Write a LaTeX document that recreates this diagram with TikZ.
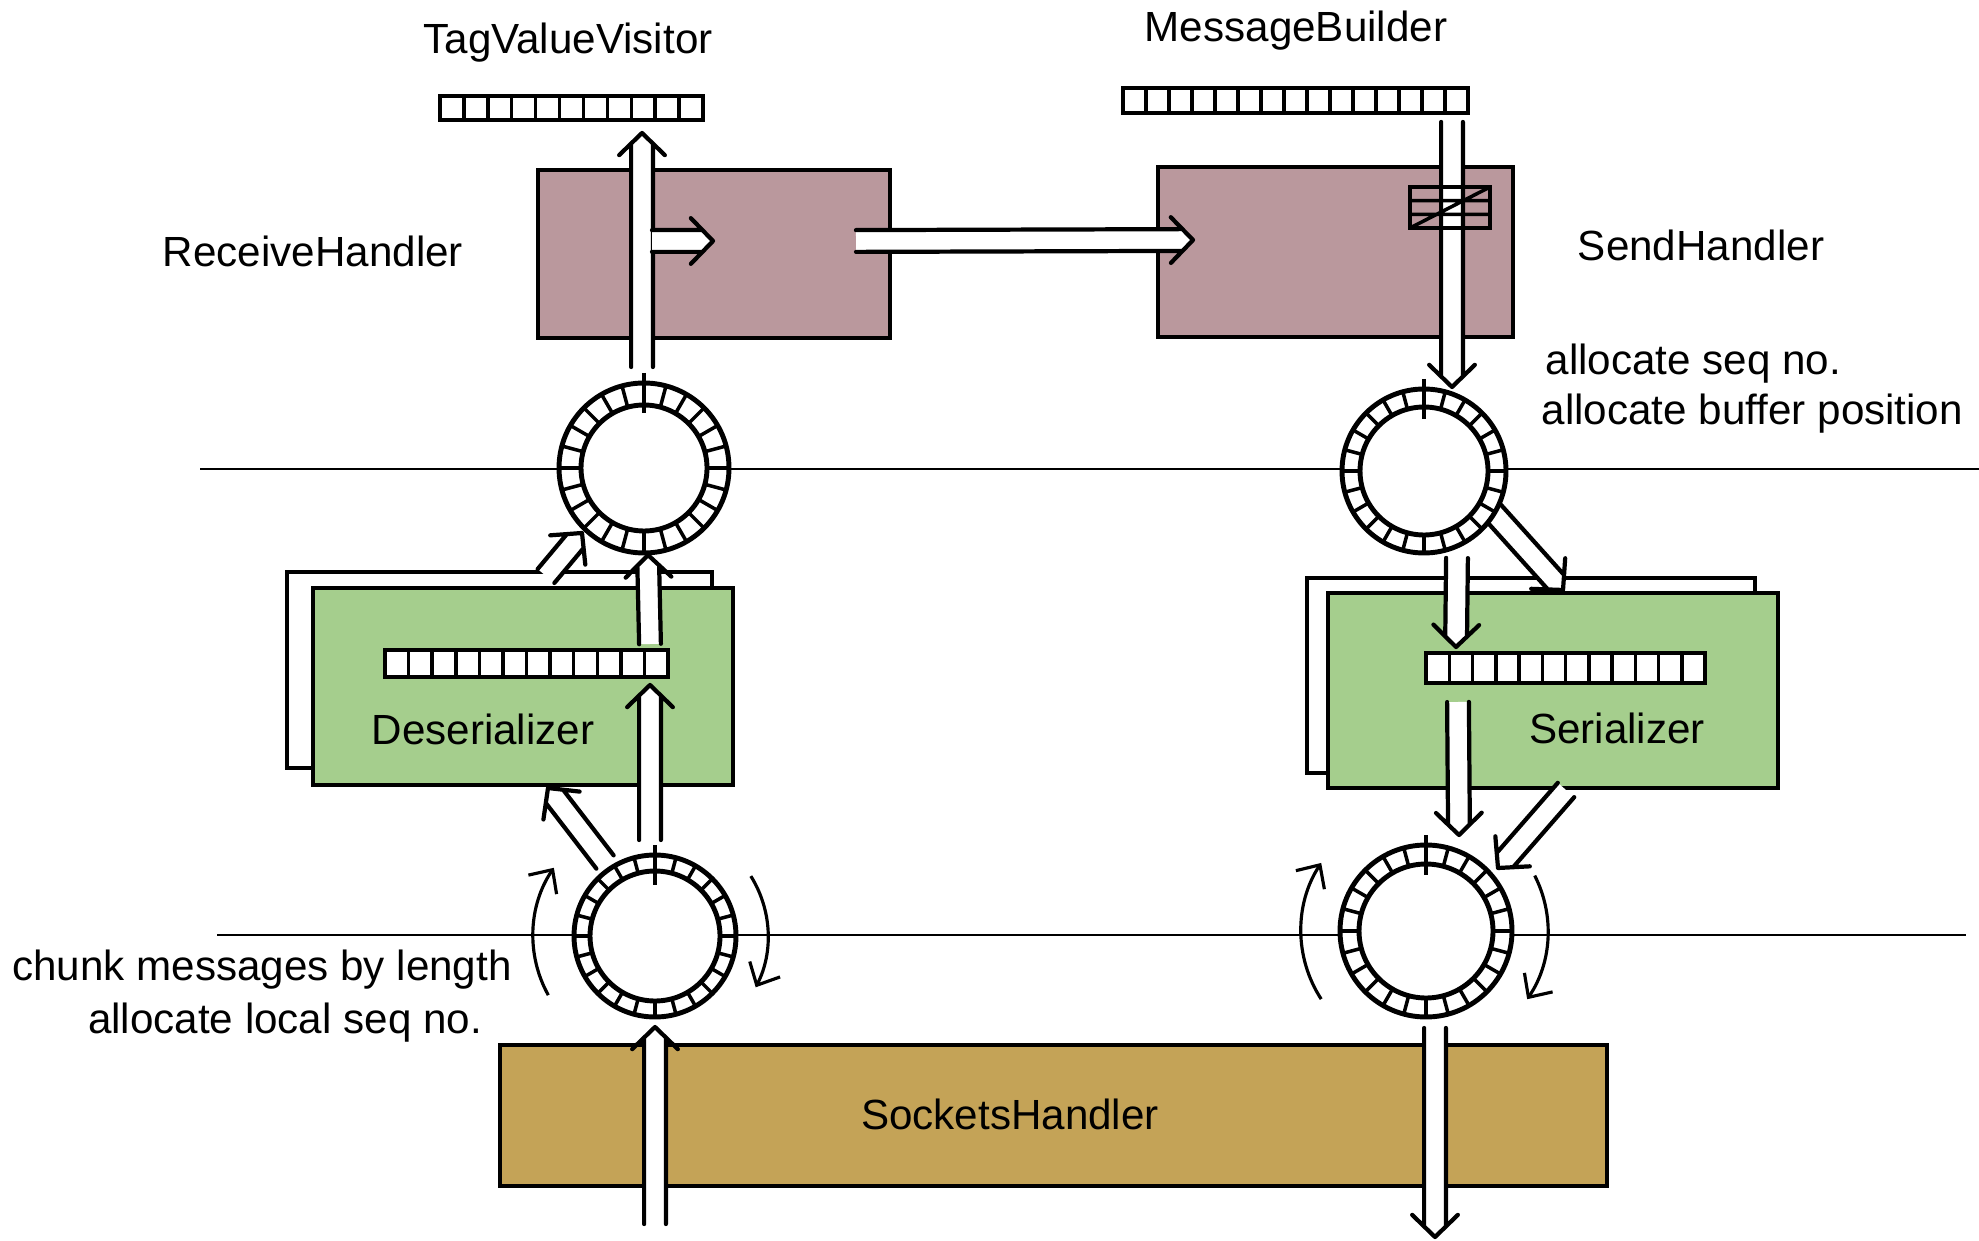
\documentclass[tikz,border=0pt]{standalone}
\usepackage{fontspec}
\setmainfont{Liberation Sans}
\usepackage{tikz}
\usetikzlibrary{calc,positioning,arrows.meta}

\definecolor{handlerpink}{RGB}{186,152,157}
\definecolor{codecgreen}{RGB}{165,206,141}
\definecolor{socketgold}{RGB}{196,163,87}

\tikzset{
  box/.style={draw, line width=1.2pt, inner sep=0pt, outer sep=0pt, anchor=north west},
  buf/.style={draw, fill=white, line width=1pt, inner sep=0pt, outer sep=0pt, anchor=north west},
  ring/.style={circle, draw, fill=white, line width=1.4pt, inner sep=0pt, outer sep=0pt},
  spoke/.style={line width=1pt},
  pipeline/.style={line width=1.2pt, line cap=round, line join=round},
  spin/.style={line width=0.9pt, -{Straight Barb[length=1.8mm,width=3.4mm]}},
  wire/.style={line width=0.6pt},
  txt/.style={font=\fontsize{12pt}{14pt}\selectfont, inner sep=0pt, anchor=base}
}

% hollow arrow with an open head, from #1 to #2
\newcommand{\flow}[2]{%
  \coordinate (pa) at ($(#1)!3.1pt!90:(#2)$);
  \coordinate (pb) at ($(#1)!3.1pt!-90:(#2)$);
  \coordinate (sa) at ($(#2)!3pt!(#1)!3.1pt!90:(#2)$);
  \coordinate (sb) at ($(#2)!3pt!(#1)!3.1pt!-90:(#2)$);
  \coordinate (wa) at ($(#2)!6.3pt!(#1)!6.5pt!90:(#2)$);
  \coordinate (wb) at ($(#2)!6.3pt!(#1)!6.5pt!-90:(#2)$);
  \fill[white] (pa) -- (sa) -- (#2) -- (sb) -- (pb) -- cycle;
  \draw[pipeline] (pa) -- (sa) (wa) -- (#2) -- (wb) (pb) -- (sb);
}

% buffer cells: node #1 split into #2 slots
\newcommand{\cells}[2]{%
  \pgfmathtruncatemacro\lastcell{#2-1}
  \foreach \i in {1,...,\lastcell}
    \draw[line width=1pt] ($(#1.north west)!\i/#2!(#1.north east)$) -- ($(#1.south west)!\i/#2!(#1.south east)$);
}

% ring buffer: inner circle and spokes on node #1
\newcommand{\ringcells}[3]{%
  \draw[line width=1.4pt] (#1.center) circle[radius=#2];
  \foreach \a in {0,15,...,345}
    \draw[spoke] ([shift={(\a:#2)}]#1.center) -- ([shift={(\a:#3)}]#1.center);
  \draw[line width=1.2pt] (#1.north) ++(0,-10) -- ++(0,40);
}

\begin{document}
\begin{tikzpicture}[x=0.1mm, y=-0.1mm]
    \useasboundingbox (0,0) rectangle (1979,1241);

    % thread boundaries
    \draw[wire] (200,469) -- (1979,469);
    \draw[wire] (217,935) -- (1966,935);

    % handlers
    \node[box, fill=handlerpink, minimum width=35.2mm, minimum height=16.8mm] (recv) at (538,170) {};
    \node[box, fill=handlerpink, minimum width=35.5mm, minimum height=17mm] (send) at (1158,167) {};

    % codecs
    \node[box, fill=white, minimum width=42.5mm, minimum height=19.6mm] (deserback) at (287,572) {};
    \node[box, fill=codecgreen, minimum width=42mm, minimum height=19.7mm] (deser) at (313,588) {};
    \node[box, fill=white, minimum width=44.8mm, minimum height=19.5mm] (serback) at (1307,578) {};
    \node[box, fill=codecgreen, minimum width=45mm, minimum height=19.5mm] (ser) at (1328,593) {};

    % sockets
    \node[box, fill=socketgold, minimum width=110.7mm, minimum height=14.1mm] (sockets) at (500,1045) {};

    % arrow ends
    \coordinate (rxin) at (655,1224);    \coordinate (rxring) at (655,1027);
    \coordinate (blup) at (650,840);     \coordinate (desbuf) at (650,685);
    \coordinate (blside) at (605,862);   \coordinate (desbot) at (548,788);
    \coordinate (desout) at (650,644);   \coordinate (tlbot) at (648,555);
    \coordinate (desside) at (546,576);  \coordinate (tlside) at (582,533);
    \coordinate (tltop) at (642,367);    \coordinate (tagin) at (642,133);
    \coordinate (branch) at (652,241);   \coordinate (branchend) at (713,241);
    \coordinate (recvout) at (856,241);  \coordinate (sendin) at (1193,240);
    \coordinate (msgout) at (1452,122);  \coordinate (trtop) at (1452,387);
    \coordinate (trbot) at (1457,558);   \coordinate (serin) at (1456,647);
    \coordinate (trside) at (1482,500);  \coordinate (sertop) at (1563,590);
    \coordinate (serout) at (1458,702);  \coordinate (brtop) at (1459,835);
    \coordinate (serside) at (1566,790); \coordinate (brside) at (1498,868);
    \coordinate (brbot) at (1435,1028);  \coordinate (txout) at (1435,1237);

    % receive path
    \flow{rxin}{rxring}
    \flow{blup}{desbuf}
    \flow{blside}{desbot}
    \flow{desout}{tlbot}
    \flow{desside}{tlside}
    \flow{tltop}{tagin}
    \flow{branch}{branchend}
    \flow{recvout}{sendin}

    % send path
    \flow{msgout}{trtop}
    \flow{trbot}{serin}
    \flow{trside}{sertop}
    \flow{serout}{brtop}
    \flow{serside}{brside}
    \flow{brbot}{txout}

    % buffers
    \node[buf, minimum width=26.3mm, minimum height=2.4mm] (tagbuf) at (440,96) {};
    \cells{tagbuf}{11}
    \node[buf, minimum width=34.5mm, minimum height=2.5mm] (msgbuf) at (1123,88) {};
    \cells{msgbuf}{15}
    \node[buf, minimum width=28.3mm, minimum height=2.7mm] (deserbuf) at (385,650) {};
    \cells{deserbuf}{12}
    \node[buf, minimum width=27.9mm, minimum height=3mm] (serbuf) at (1426,653) {};
    \cells{serbuf}{12}
    \node[buf, fill=none, minimum width=8mm, minimum height=4.1mm] (slot) at (1410,187) {};
    \draw[line width=1pt] ($(slot.north west)!1/3!(slot.south west)$) -- ($(slot.north east)!1/3!(slot.south east)$)
                          ($(slot.north west)!2/3!(slot.south west)$) -- ($(slot.north east)!2/3!(slot.south east)$)
                          (slot.south west) -- (slot.north east);

    % rings
    \node[ring, minimum size=17mm] (ringTL) at (644,468) {};
    \ringcells{ringTL}{63}{85}
    \node[ring, minimum size=16.4mm] (ringTR) at (1424,471) {};
    \ringcells{ringTR}{64}{82}
    \node[ring, minimum size=16.2mm] (ringBL) at (655,936) {};
    \ringcells{ringBL}{65}{81}
    \node[ring, minimum size=17.2mm] (ringBR) at (1426,931) {};
    \ringcells{ringBR}{67}{86}

    % rotation
    \draw[spin] ([shift={(209:12.2mm)}]ringBL.center) arc[start angle=209, end angle=146, radius=12.2mm];
    \draw[spin] ([shift={(32:11.3mm)}]ringBL.center) arc[start angle=32, end angle=-27, radius=11.3mm];
    \draw[spin] ([shift={(213:12.5mm)}]ringBR.center) arc[start angle=213, end angle=147, radius=12.5mm];
    \draw[spin] ([shift={(27:12.2mm)}]ringBR.center) arc[start angle=27, end angle=-34, radius=12.2mm];

    % labels
    \node[txt] (tagname) at (568,54) {TagValueVisitor};
    \node[txt] (msgname) at (1296,42) {MessageBuilder};
    \node[txt] (recvname) at (313,267) {ReceiveHandler};
    \node[txt] (sendname) at (1701,261) {SendHandler};
    \node[txt, anchor=base west] (seqnote) at (1545,375) {allocate seq no.};
    \node[txt, anchor=base west] (posnote) at (1541,425) {allocate buffer position};
    \node[txt] (desname) at (483,744) {Deserializer};
    \node[txt] (sername) at (1617,743) {Serializer};
    \node[txt] (sockname) at (1010,1129) {SocketsHandler};
    \node[txt] (chunknote) at (262,980) {chunk messages by length};
    \node[txt] (localnote) at (285,1033) {allocate local seq no.};
\end{tikzpicture}
\end{document}
